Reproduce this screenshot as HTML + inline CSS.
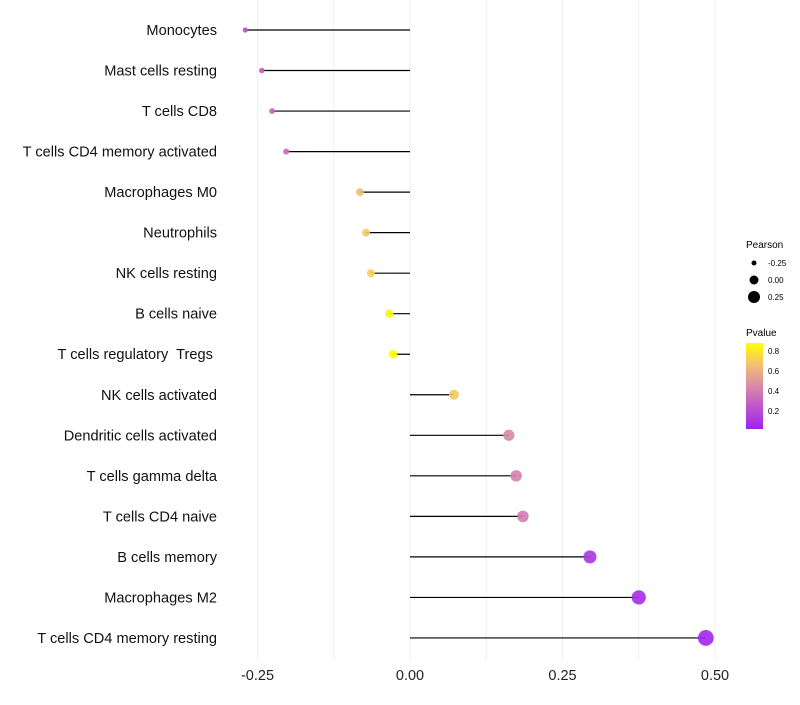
<!DOCTYPE html>
<html><head><meta charset="utf-8"><style>
body{margin:0;background:#fff;font-family:"Liberation Sans",sans-serif}
text{white-space:pre}
</style></head><body>
<svg id="chart" width="800" height="700" xmlns="http://www.w3.org/2000/svg" font-family="Liberation Sans, sans-serif">
<defs><linearGradient id="pg" x1="0" y1="1" x2="0" y2="0">
<stop offset="0" stop-color="#a020f0"/><stop offset="0.5" stop-color="#d98aa8"/><stop offset="0.75" stop-color="#f2c070"/><stop offset="1" stop-color="#ffff00"/></linearGradient></defs>
<g id="grid"></g><g id="marks"></g><g id="labels"></g>
<g>
<text x="746" y="248" font-size="10">Pearson</text>
<circle cx="754" cy="263" r="2.5" fill="#000"/>
<text x="768" y="266" font-size="8">-0.25</text>
<circle cx="754" cy="280" r="4.5" fill="#000"/>
<text x="768" y="283" font-size="8">0.00</text>
<circle cx="754" cy="297" r="6" fill="#000"/>
<text x="768" y="300" font-size="8">0.25</text>
<text x="746" y="336" font-size="10">Pvalue</text>
<rect x="746" y="343" width="17" height="86" fill="url(#pg)"/>
<text x="768" y="354" font-size="8">0.8</text>
<text x="768" y="374" font-size="8">0.6</text>
<text x="768" y="394" font-size="8">0.4</text>
<text x="768" y="414" font-size="8">0.2</text>
</g>
</svg>
<script>
const categories=["Monocytes","Mast cells resting","T cells CD8","T cells CD4 memory activated","Macrophages M0","Neutrophils","NK cells resting","B cells naive","T cells regulatory  Tregs ","NK cells activated","Dendritic cells activated","T cells gamma delta","T cells CD4 naive","B cells memory","Macrophages M2","T cells CD4 memory resting"];
const pearson=[-0.270,-0.243,-0.226,-0.203,-0.082,-0.072,-0.064,-0.034,-0.028,0.072,0.162,0.174,0.185,0.295,0.375,0.485];
const pvalues=[0.22,0.28,0.30,0.35,0.65,0.70,0.72,0.85,0.88,0.70,0.45,0.42,0.40,0.12,0.08,0.05];
const xTicks=[-0.25,0,0.25,0.5];
const xTickLabels=["-0.25","0.00","0.25","0.50"];
const NS="http://www.w3.org/2000/svg";
const x=v=>410+v*610;
const y=i=>30+i*40.53;
const rad=v=>Math.max(1.5,4.5+v*7);
function col(p){const stops=[[0,[160,32,240]],[0.5,[217,138,168]],[0.75,[242,192,112]],[1,[255,255,0]]];
 let t=Math.min(1,Math.max(0,(p-0.03)/0.85));
 for(let k=1;k<stops.length;k++){if(t<=stops[k][0]){const a=stops[k-1],b=stops[k];const f=(t-a[0])/(b[0]-a[0]);return "rgb("+a[1].map((c,j)=>Math.round(c+(b[1][j]-c)*f)).join(",")+")";}}return "rgb(255,255,0)";}
function mk(tag,attrs,parent){const e=document.createElementNS(NS,tag);for(const k in attrs)e.setAttribute(k,attrs[k]);parent.appendChild(e);return e;}
const grid=document.getElementById('grid'),marks=document.getElementById('marks'),labels=document.getElementById('labels');
for(let v=-0.25;v<=0.5001;v+=0.125){const g=mk('line',{x1:x(v),x2:x(v),y1:0,y2:660,stroke:'#efefef','stroke-width':1},grid);

}
xTicks.forEach((v,i)=>{const t=mk('text',{x:x(v),y:680,'font-size':14.5,'text-anchor':'middle',fill:'#222'},labels);t.textContent=xTickLabels[i];

});
categories.forEach((c,i)=>{
 const t=mk('text',{x:217,y:y(i)+5,'font-size':14.6,'text-anchor':'end',fill:'#111'},labels);t.textContent=c;
 
 
 const l=mk('line',{x1:x(0),x2:x(pearson[i]),y1:y(i),y2:y(i),stroke:'#000','stroke-width':1.2},marks);
 
 
 const p=mk('circle',{cx:x(pearson[i]),cy:y(i),r:rad(pearson[i]),fill:col(pvalues[i]),'fill-opacity':0.9},marks);
 
 
});
</script>
</body></html>
